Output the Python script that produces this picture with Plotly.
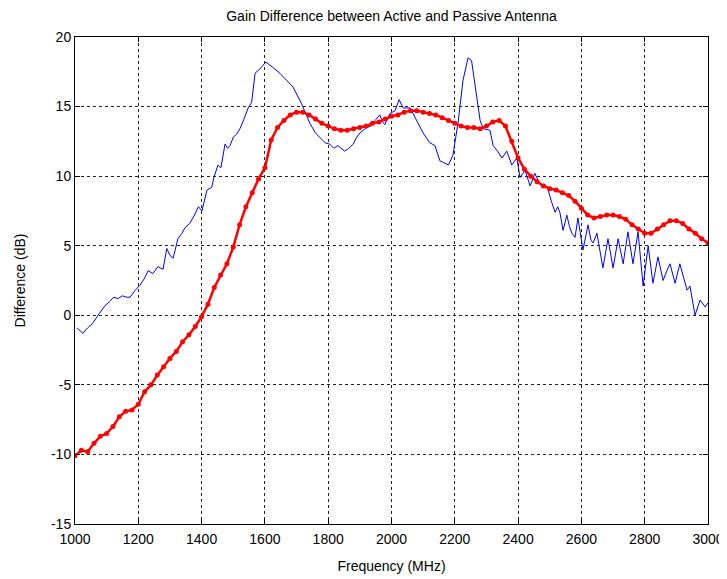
import plotly.graph_objects as go

# Blue (thin line) series: frequency (MHz) and difference (dB)
blue_freq = [1006, 1015, 1025, 1040, 1055, 1073, 1085, 1095, 1110, 1122, 1136, 1150, 1162, 1174, 1190,
             1205, 1218, 1231, 1246, 1262, 1278, 1290, 1300, 1310, 1325, 1338, 1348, 1362, 1373, 1390,
             1401, 1417, 1432, 1440, 1452, 1461, 1474, 1482, 1490, 1500, 1510, 1521, 1534, 1547, 1558,
             1569, 1584, 1603, 1626, 1647, 1668, 1689, 1716, 1742, 1760, 1774, 1790, 1805, 1818, 1830,
             1852, 1865, 1879, 1890, 1900, 1922, 1935, 1948, 1963, 1972, 1979, 1995, 2011, 2024, 2037,
             2059, 2080, 2100, 2121, 2137, 2153, 2168, 2180, 2194, 2210, 2226, 2242, 2253, 2262, 2270,
             2280, 2290, 2311, 2321, 2335, 2349, 2364, 2380, 2396, 2406, 2422, 2438, 2453, 2465, 2475,
             2485, 2495, 2505, 2517, 2525, 2532, 2542, 2554, 2562, 2570, 2580, 2589, 2605, 2621, 2630,
             2637, 2649, 2668, 2684, 2700, 2716, 2732, 2747, 2763, 2779, 2795, 2811, 2826, 2842, 2858,
             2870, 2880, 2896, 2911, 2934, 2943, 2959, 2975, 2991, 3000]
blue_diff = [-0.9, -1.1, -1.3, -0.9, -0.6, 0.0, 0.4, 0.7, 1.0, 1.3, 1.2, 1.4, 1.3, 1.3, 1.8,
             2.15, 2.6, 3.2, 3.0, 3.5, 3.3, 4.8, 4.3, 4.1, 5.5, 5.9, 6.3, 6.6, 7.0, 7.8,
             7.5, 9.0, 9.2, 10.0, 10.8, 10.6, 12.3, 12.0, 12.2, 12.8, 13.0, 13.4, 14.1, 14.9, 15.3,
             17.4, 17.7, 18.2, 17.8, 17.4, 16.9, 16.4, 15.2, 13.8, 13.1, 12.8, 12.4, 12.3, 12.0, 12.2,
             11.8, 12.0, 12.3, 12.8, 13.1, 13.5, 13.6, 14.0, 14.4, 13.9, 13.7, 14.5, 14.7, 15.5, 14.9,
             14.9, 14.0, 13.1, 12.4, 12.2, 11.1, 10.9, 10.8, 11.5, 13.8, 16.9, 18.5, 18.3, 16.8, 15.7,
             14.0, 13.4, 13.3, 12.2, 11.8, 11.3, 11.8, 10.8, 11.3, 9.9, 10.4, 9.3, 10.2, 9.6, 9.3,
             9.4, 9.0, 8.2, 7.4, 7.8, 7.4, 6.1, 7.2, 6.4, 5.9, 5.6, 7.0, 4.7, 6.5, 5.4,
             5.2, 5.9, 3.4, 5.5, 3.4, 5.5, 3.7, 6.0, 3.7, 6.0, 2.1, 5.0, 2.3, 4.2, 2.5,
             3.2, 3.7, 2.3, 3.7, 1.8, 2.1, 0.0, 1.1, 0.6, 0.9]

# Red (dotted) series
red_freq = list(range(1000, 3001, 20))
red_diff = [-10.1, -9.7, -9.8, -9.2, -8.7, -8.5, -8.0, -7.3, -6.9, -6.8,
            -6.4, -5.5, -5.0, -4.3, -3.7, -3.1, -2.6, -1.9, -1.4, -0.8,
            -0.1, 0.8, 2.0, 2.9, 3.7, 4.9, 6.5, 7.8, 8.8, 9.8,
            10.6, 12.6, 13.5, 14.0, 14.4, 14.6, 14.6, 14.4, 14.1, 13.8,
            13.6, 13.4, 13.3, 13.3, 13.4, 13.5, 13.6, 13.8, 13.9, 14.1,
            14.3, 14.4, 14.6, 14.7, 14.7, 14.6, 14.5, 14.4, 14.2, 14.0,
            13.8, 13.6, 13.5, 13.5, 13.4, 13.6, 13.9, 14.0, 13.6, 12.5,
            11.3, 10.5, 10.0, 9.6, 9.3, 9.1, 9.0, 8.8, 8.6, 8.2,
            7.7, 7.2, 7.0, 7.1, 7.2, 7.2, 7.1, 6.9, 6.5, 6.2,
            5.9, 5.9, 6.2, 6.5, 6.8, 6.8, 6.6, 6.2, 5.9, 5.5,
            5.2]

x_ticks = [1000, 1200, 1400, 1600, 1800, 2000, 2200, 2400, 2600, 2800, 3000]
y_ticks = [-15, -10, -5, 0, 5, 10, 15, 20]

fig = go.Figure()
fig.add_trace(go.Scatter(x=blue_freq, y=blue_diff, mode="lines",
                         line=dict(color="#0000ff", width=1), showlegend=False))
fig.add_trace(go.Scatter(x=red_freq, y=red_diff, mode="lines+markers",
                         line=dict(color="#ff0000", width=2.5),
                         marker=dict(color="#ff0000", size=5), showlegend=False))

FONT = "Liberation Sans, Arial"
axis_common = dict(showline=True, linecolor="black", linewidth=1, mirror="ticks",
                   ticks="inside", ticklen=5, tickcolor="black", automargin=False,
                   showgrid=True, gridcolor="#222222", gridwidth=1, griddash="3px,3px",
                   zeroline=False, tickfont=dict(family=FONT, size=14, color="black"))

fig.update_xaxes(range=[1000, 3000], tickvals=x_ticks, ticktext=[str(v) for v in x_ticks],
                 ticklabelstandoff=2,
                 title=dict(text="Frequency (MHz)", font=dict(family=FONT, size=14, color="black"), standoff=15),
                 **axis_common)
fig.update_yaxes(range=[-15, 20], tickvals=y_ticks, ticktext=[str(v) for v in y_ticks],
                 title=dict(text="Difference (dB)", font=dict(family=FONT, size=14, color="black"), standoff=22),
                 **axis_common)

# The page body adds an 8px offset, so the figure is sized to fit the window.
fig.update_layout(
    width=719, height=571,
    margin=dict(l=67, r=19, t=29, b=55),
    paper_bgcolor="white", plot_bgcolor="white",
    title=dict(text="Gain Difference between Active and Passive Antenna",
               x=0.5, xref="paper", xanchor="center", y=0.985, yref="container", yanchor="middle",
               font=dict(family=FONT, size=14, color="black")),
)

fig.write_html("out.html")
